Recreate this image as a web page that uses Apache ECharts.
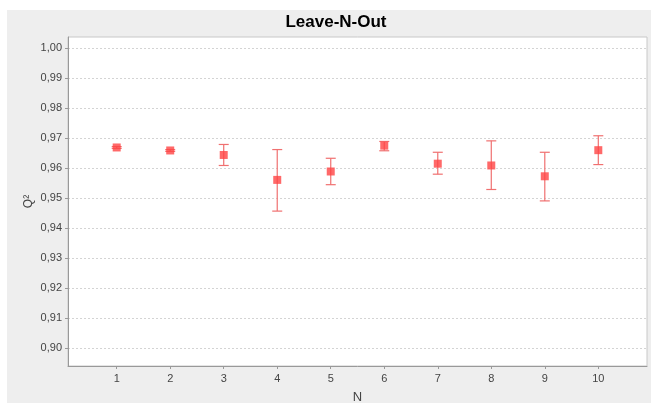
<!DOCTYPE html>
<html><head><meta charset="utf-8">
<script src="https://cdn.jsdelivr.net/npm/echarts@6/dist/echarts.min.js"></script>
<style>html,body{margin:0;padding:0;background:#fff}#c{width:651px;height:403px}</style>
</head><body><div id="c"></div>
<script>
const nValues = [1,2,3,4,5,6,7,8,9,10];
const q2Mean  = [0.9669,0.9659,0.9644,0.9561,0.9589,0.9675,0.9615,0.9609,0.9573,0.9660];
const q2Low   = [0.9666,0.9656,0.9609,0.9457,0.9545,0.9658,0.9580,0.9529,0.9491,0.9612];
const q2High  = [0.9672,0.9662,0.9679,0.9662,0.9633,0.9689,0.9653,0.9691,0.9653,0.9708];
const yTicks  = [0.90,0.91,0.92,0.93,0.94,0.95,0.96,0.97,0.98,0.99,1.00];
const xTicks  = [1,2,3,4,5,6,7,8,9,10];

const chart = echarts.init(document.getElementById('c'));
const font = '"Liberation Sans", Arial, sans-serif';
chart.setOption({
  backgroundColor: '#ffffff',
  animation: false,
  graphic: [{type:'rect', z:-10, shape:{x:7,y:10,width:644,height:393}, style:{fill:'#eeeeee'}}],
  title: {text:'Leave-N-Out', left:331, top:9, textAlign:'center',
    textStyle:{fontFamily:font, fontWeight:'bold', fontSize:17, color:'#000'}},
  grid: {left:68, top:37, right:4, bottom:37, containLabel:false, outerBoundsMode:'none',
    show:true, backgroundColor:'#ffffff', borderColor:'#c8c8c8', borderWidth:1},
  xAxis: {type:'value', min:0.09, max:10.91, name:'N', nameLocation:'middle', nameGap:25,
    nameMoveOverlap:false,
    nameTextStyle:{fontFamily:font, fontSize:13, color:'#444'},
    axisLine:{show:true, onZero:false, lineStyle:{color:'#999', width:1}},
    axisTick:{show:true, length:3, customValues:xTicks, lineStyle:{color:'#999'}},
    axisLabel:{customValues:xTicks, fontFamily:font, fontSize:11, color:'#444', margin:7},
    splitLine:{show:false}},
  yAxis: {type:'value', min:0.8941, max:1.0037, name:'Q²', nameLocation:'middle', nameGap:33, nameRotate:90,
    nameMoveOverlap:false,
    nameTextStyle:{fontFamily:font, fontSize:12, color:'#444'},
    axisLine:{show:true, onZero:false, lineStyle:{color:'#999', width:1}},
    axisTick:{show:true, length:3, customValues:yTicks, lineStyle:{color:'#999'}},
    axisLabel:{customValues:yTicks, fontFamily:font, fontSize:11, color:'#444', margin:6,
      formatter: v => v.toFixed(2).replace('.', ',')},
    splitLine:{show:true, lineStyle:{color:'#d4d4d4', type:[2,2], width:1}}},
  series: [
    {type:'custom', z:2,
      data: nValues.map((n,i)=>[n, q2Low[i], q2High[i]]),
      renderItem: function(params, api){
        const lo = api.coord([api.value(0), api.value(1)]);
        const hi = api.coord([api.value(0), api.value(2)]);
        const hw = 5;
        const st = {stroke:'#f07070', lineWidth:1.2};
        return {type:'group', children:[
          {type:'line', shape:{x1:lo[0],y1:lo[1],x2:hi[0],y2:hi[1]}, style:st},
          {type:'line', shape:{x1:lo[0]-hw,y1:lo[1],x2:lo[0]+hw,y2:lo[1]}, style:st},
          {type:'line', shape:{x1:hi[0]-hw,y1:hi[1],x2:hi[0]+hw,y2:hi[1]}, style:st}
        ]};
      }},
    {type:'scatter', z:3, symbol:'rect', symbolSize:8,
      itemStyle:{color:'#ff4444'},
      data: nValues.map((n,i)=>[n, q2Mean[i]])}
  ]
});
</script></body></html>
